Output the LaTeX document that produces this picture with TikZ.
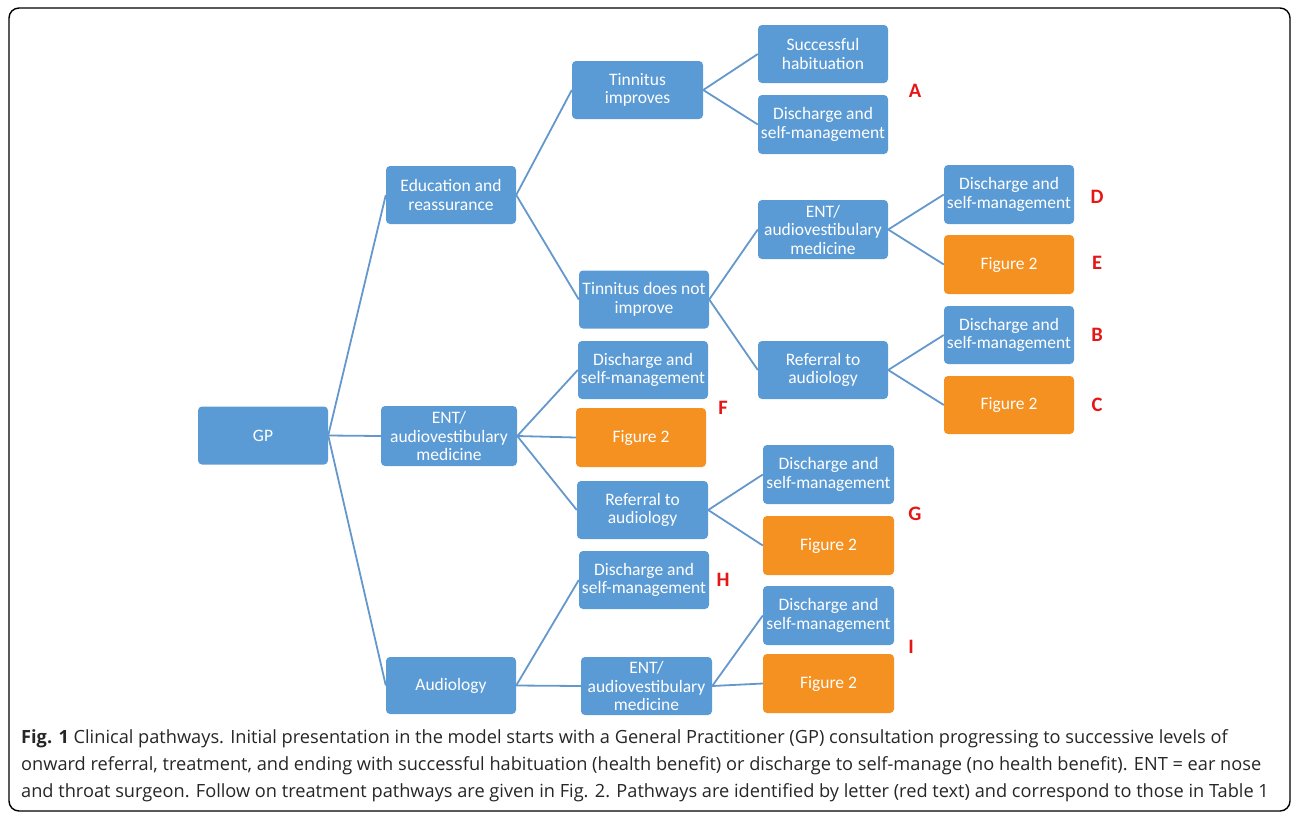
\documentclass[tikz,border=0pt]{standalone}
\usepackage{fontspec}
\setmainfont{Carlito}
\newfontfamily\capfont{Open Sans}
\definecolor{boxblue}{RGB}{91,155,213}
\definecolor{linkblue}{RGB}{100,152,205}
\definecolor{boxorange}{RGB}{244,145,32}
\definecolor{labred}{RGB}{228,22,22}
\begin{document}
\begin{tikzpicture}[x=1pt,y=-1pt,
 box/.style={rounded corners=4pt, fill=boxblue, text=white, align=center, inner sep=0pt,
   minimum width=130pt, minimum height=58pt, font=\fontsize{17.5}{18.5}\selectfont},
 obox/.style={box, fill=boxorange},
 link/.style={draw=linkblue, line width=1.8pt},
 lab/.style={text=labred, inner sep=0pt, font=\fontsize{20.5}{22}\selectfont\bfseries},
 capline/.style={anchor=base west, inner sep=0pt, font=\capfont\fontsize{18.2}{22}\selectfont, text=black!85}]
\useasboundingbox (0,0) rectangle (1292,814);
\draw[line width=1.4pt, rounded corners=10pt] (9,8) rectangle (1290,811);
% level 0
\node[box] (gp) at (263,435.5) {GP};
% level 1
\node[box] (edu) at (451,195) {Education and\\reassurance};
\node[box, minimum width=136pt, minimum height=60pt] (ent1) at (449,436) {ENT/\\audiovestibulary\\medicine};
\node[box, minimum height=57pt] (aud) at (451,685.5) {Audiology};
% level 2
\node[box, minimum width=131pt] (ti) at (637.5,90) {Tinnitus\\improves};
\node[box] (tni) at (644,299.5) {Tinnitus does not\\improve};
\node[box] (dF) at (643,370) {Discharge and\\self-management};
\node[obox, minimum height=59pt] (fF) at (641,437.5) {Figure 2};
\node[box, minimum width=131pt] (ref2) at (642.5,510) {Referral to\\audiology};
\node[box] (dH) at (644,580) {Discharge and\\self-management};
\node[box, minimum width=131pt] (ent2) at (646.5,686) {ENT/\\audiovestibulary\\medicine};
% level 3
\node[box] (sh) at (823,54) {Successful\\habituation};
\node[box, minimum height=59pt] (dA) at (823,124.5) {Discharge and\\self-management};
\node[box, minimum height=59pt] (ent3) at (823,229.5) {ENT/\\audiovestibulary\\medicine};
\node[box] (ref3) at (823,370) {Referral to\\audiology};
\node[box, minimum width=131pt, minimum height=59pt] (dG) at (828.5,474.5) {Discharge and\\self-management};
\node[obox, minimum width=131pt, minimum height=59pt] (fG) at (828.5,545.5) {Figure 2};
\node[box, minimum width=131pt, minimum height=59pt] (dI) at (828.5,615.5) {Discharge and\\self-management};
\node[obox, minimum width=131pt, minimum height=59pt] (fI) at (828.5,683.5) {Figure 2};
% level 4
\node[box, minimum height=59pt] (dD) at (1009,194.5) {Discharge and\\self-management};
\node[obox, minimum height=59pt] (fE) at (1009,264.5) {Figure 2};
\node[box] (dB) at (1009,335) {Discharge and\\self-management};
\node[obox] (fC) at (1009,405) {Figure 2};
% connectors
\draw[link] (gp.east) -- (edu.west);
\draw[link] (gp.east) -- (ent1.west);
\draw[link] (gp.east) -- (aud.west);
\draw[link] (edu.east) -- (ti.west);
\draw[link] (edu.east) -- (tni.west);
\draw[link] (ti.east) -- (sh.west);
\draw[link] (ti.east) -- (dA.west);
\draw[link] (tni.east) -- (ent3.west);
\draw[link] (tni.east) -- (ref3.west);
\draw[link] (ent3.east) -- (dD.west);
\draw[link] (ent3.east) -- (fE.west);
\draw[link] (ref3.east) -- (dB.west);
\draw[link] (ref3.east) -- (fC.west);
\draw[link] (ent1.east) -- (dF.west);
\draw[link] (ent1.east) -- (fF.west);
\draw[link] (ent1.east) -- (ref2.west);
\draw[link] (ref2.east) -- (dG.west);
\draw[link] (ref2.east) -- (fG.west);
\draw[link] (aud.east) -- (dH.west);
\draw[link] (aud.east) -- (ent2.west);
\draw[link] (ent2.east) -- (dI.west);
\draw[link] (ent2.east) -- (fI.west);
% pathway letters
\node[lab] (lA) at (915,91) {A};
\node[lab] (lD) at (1097,197) {D};
\node[lab] (lE) at (1097,263) {E};
\node[lab] (lB) at (1097,335) {B};
\node[lab] (lC) at (1097,405) {C};
\node[lab] (lF) at (723,408) {F};
\node[lab] (lG) at (915,514) {G};
\node[lab] (lH) at (723,580) {H};
\node[lab] (lI) at (911,647) {I};
% caption
\node[capline] (cap1) at (21,743) {\textbf{Fig. 1} Clinical pathways. Initial presentation in the model starts with a General Practitioner (GP) consultation progressing to successive levels of};
\node[capline] (cap2) at (21,770) {onward referral, treatment, and ending with successful habituation (health benefit) or discharge to self-manage (no health benefit). ENT = ear nose};
\node[capline] (cap3) at (21,797) {and throat surgeon. Follow on treatment pathways are given in Fig. 2. Pathways are identified by letter (red text) and correspond to those in Table 1};
\end{tikzpicture}
\end{document}
